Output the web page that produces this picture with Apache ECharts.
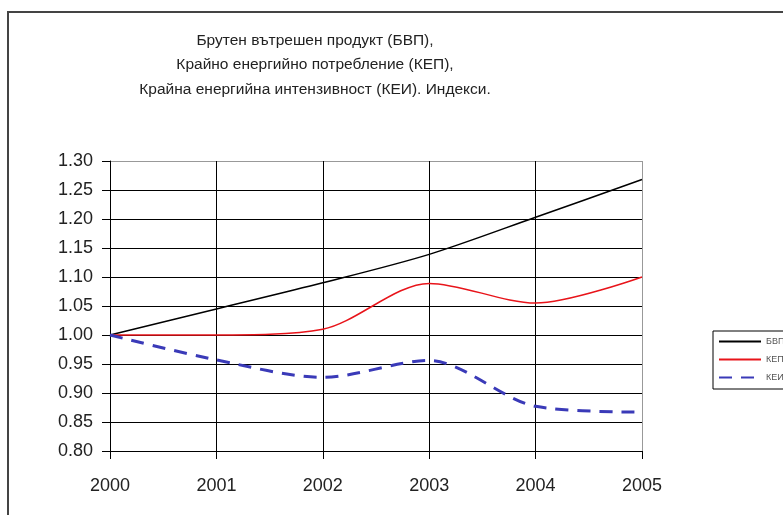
<!DOCTYPE html>
<html>
<head>
<meta charset="utf-8">
<script src="https://cdn.jsdelivr.net/npm/echarts@6/dist/echarts.min.js"></script>
<style>
  html, body { margin: 0; padding: 0; background: #fff; }
  #chart { width: 783px; height: 515px; }
</style>
</head>
<body>
<div id="chart"></div>
<script>
// Years on the horizontal axis
const years = ['2000', '2001', '2002', '2003', '2004', '2005'];

// Index values (2000 = 1.00)
const gdp = [1.00, 1.045, 1.09, 1.139, 1.203, 1.268];        // БВП
const consumption = [1.00, 1.00, 1.01, 1.089, 1.055, 1.10];  // КЕП
const intensity = [1.00, 0.957, 0.927, 0.956, 0.877, 0.867]; // КЕИ

const seriesNames = ['БВП', 'КЕП', 'КЕИ'];
const titleLines = [
  'Брутен вътрешен продукт (БВП),',
  'Крайно енергийно потребление (КЕП),',
  'Крайна енергийна интензивност (КЕИ). Индекси.'
];

const FONT = '"Liberation Sans", Arial, sans-serif';

// splitLine colours: the outermost line doubles as the grey plot-area border
const yGridColors = Array(10).fill('#000').concat(['#999']);
const xGridColors = Array(5).fill('#000').concat(['#999']);

const chart = echarts.init(document.getElementById('chart'), null, { renderer: 'canvas' });

chart.setOption({
  animation: false,
  backgroundColor: '#fff',
  textStyle: { fontFamily: FONT },
  graphic: [{
    type: 'rect',
    shape: { x: 8, y: 12, width: 900, height: 600 },
    style: { fill: 'none', stroke: '#444', lineWidth: 2 },
    silent: true,
    z: -1
  }],
  title: {
    text: titleLines.join('\n'),
    left: 310,
    top: 23,
    textAlign: 'center',
    textStyle: {
      fontFamily: FONT,
      fontSize: 15.5,
      fontWeight: 'normal',
      color: '#222',
      lineHeight: 24.5
    }
  },
  legend: {
    data: seriesNames,
    orient: 'vertical',
    left: 713,
    top: 331,
    padding: [6, 40, 7, 5],
    itemWidth: 42,
    itemHeight: 10,
    itemGap: 9,
    borderColor: '#000',
    borderWidth: 1,
    backgroundColor: '#fff',
    itemStyle: { opacity: 0 },
    textStyle: { fontFamily: FONT, fontSize: 9, color: '#555' }
  },
  grid: { left: 110, right: 141, top: 161, bottom: 64, containLabel: false },
  xAxis: {
    type: 'category',
    data: years,
    boundaryGap: false,
    axisLine: { lineStyle: { color: '#000', width: 1 } },
    axisTick: { show: true, length: 8, lineStyle: { color: '#000' } },
    axisLabel: { fontFamily: FONT, fontSize: 18, color: '#222', margin: 26 },
    splitLine: { show: true, lineStyle: { color: xGridColors, width: 1 } }
  },
  yAxis: {
    type: 'value',
    min: 0.8,
    max: 1.3,
    interval: 0.05,
    axisLine: { show: true, lineStyle: { color: '#000', width: 1 } },
    axisTick: { show: true, length: 8, lineStyle: { color: '#000' } },
    axisLabel: {
      fontFamily: FONT, fontSize: 18, color: '#222', margin: 17,
      formatter: v => v.toFixed(2)
    },
    splitLine: { show: true, lineStyle: { color: yGridColors, width: 1 } }
  },
  series: [
    {
      name: seriesNames[0],
      type: 'line',
      data: gdp,
      smooth: 0.3,
      symbol: 'none',
      lineStyle: { color: '#000', width: 1.5 },
      itemStyle: { color: '#000' },
      z: 3
    },
    {
      name: seriesNames[1],
      type: 'line',
      data: consumption,
      smooth: 0.3,
      symbol: 'none',
      lineStyle: { color: '#e8141a', width: 1.5 },
      itemStyle: { color: '#e8141a' },
      z: 3
    },
    {
      name: seriesNames[2],
      type: 'line',
      data: intensity,
      smooth: 0.3,
      symbol: 'none',
      lineStyle: { color: '#3a3ab8', width: 3, type: [13, 9] },
      itemStyle: { color: '#3a3ab8' },
      z: 3
    }
  ]
});
</script>
</body>
</html>
